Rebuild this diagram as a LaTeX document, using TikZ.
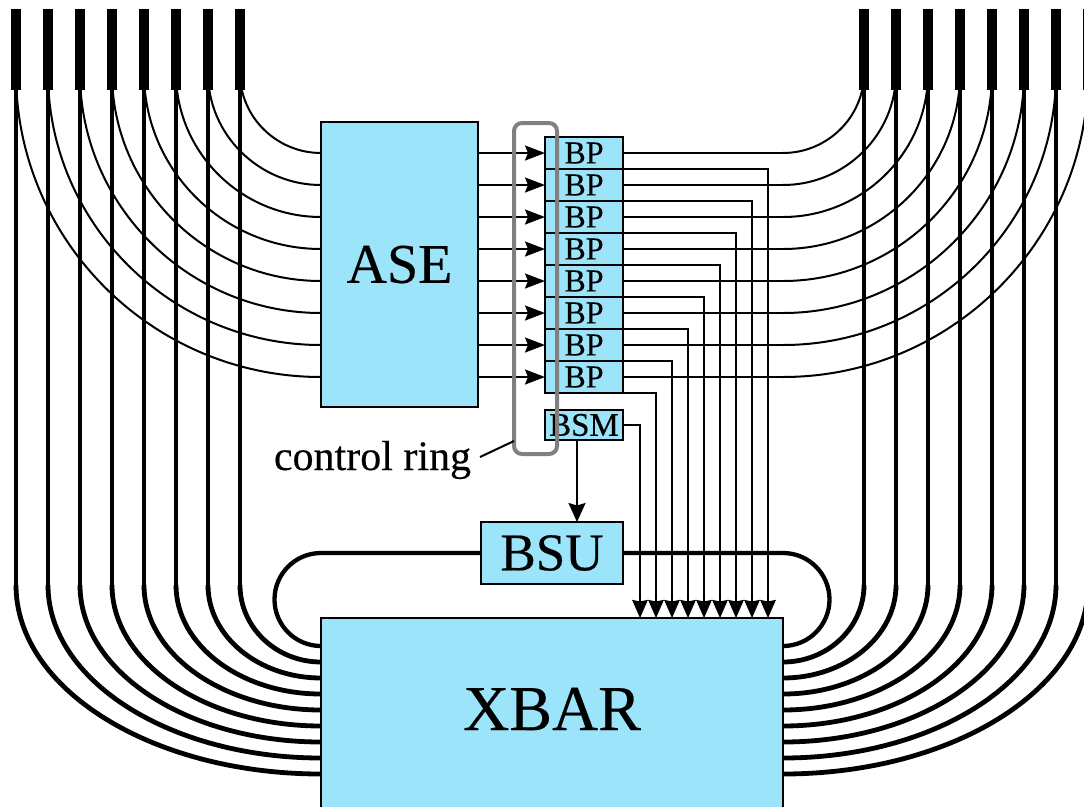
\documentclass[tikz,border=0pt]{standalone}
\usepackage{fontspec}
\setmainfont{Liberation Serif}[FakeBold=0.35]
\usetikzlibrary{arrows.meta,calc}
\definecolor{boxfill}{RGB}{155,228,250}
\definecolor{ringgray}{RGB}{128,128,128}
\begin{document}
\begin{tikzpicture}[x=1pt,y=1pt,
  box/.style={draw, fill=boxfill, line width=2.2pt, inner sep=0pt, outer sep=0pt},
  thinln/.style={line width=2pt},
  topseg/.style={line width=10.5pt},
  vline/.style={line width=3.8pt},
  bcurve/.style={line width=4.8pt},
  loopln/.style={line width=4.3pt},
  rarr/.style={-{Stealth[length=20pt,width=15pt,inset=3pt]}},
  darr/.style={-{Stealth[length=18pt,width=15.5pt,inset=1.5pt]}},
  barr/.style={-{Stealth[length=19pt,width=17pt,inset=2.5pt]}}
]
\useasboundingbox (0,0) rectangle (1084,-806);
\begin{scope}
\clip (0,0) rectangle (1084,-806);
% boxes
\node[box, minimum width=157pt, minimum height=285pt, font=\fontsize{56}{60}\selectfont] (ASE) at (399.5,-264.5) {ASE};
\foreach \k in {1,...,8}
  \node[box, minimum width=78pt, minimum height=32pt, font=\fontsize{32}{32}\selectfont] (BP\k) at (584,{-153-32*(\k-1)}) {BP};
\node[box, minimum width=78pt, minimum height=30pt, font=\fontsize{33}{32}\selectfont] (BSM) at (584,-425) {BSM};
\node[box, minimum width=142pt, minimum height=62pt, font=\fontsize{53}{56}\selectfont] (BSU) at (552,-553) {BSU};
\node[box, minimum width=462pt, minimum height=220pt, anchor=north] (XBAR) at (552,-618) {};
\node[font=\fontsize{64}{68}\selectfont] (XBARlbl) at (552,-709) {XBAR};
% left and right fibre bundles
\foreach \i in {0,...,7} {
  \pgfmathsetmacro\xx{16+32*\i}
  \pgfmathsetmacro\xr{1104-16-32*\i}
  \pgfmathsetmacro\yin{153+32*(7-\i)}
  \pgfmathsetmacro\yout{662+16*(7-\i)}
  \pgfmathsetmacro\rr{0.5523*(\yin-73)}
  \pgfmathsetmacro\dd{0.5523*(\yout-585)}
  \pgfmathsetmacro\ee{0.5523*(321-\xx)}
  \coordinate (LT\i) at (\xx,-9);
  \coordinate (LA\i) at (\xx,-73);
  \coordinate (LM\i) at (\xx,-90);
  \coordinate (LB\i) at (\xx,-585);
  \coordinate (RT\i) at (\xr,-9);
  \coordinate (RA\i) at (\xr,-73);
  \coordinate (RM\i) at (\xr,-90);
  \coordinate (RB\i) at (\xr,-585);
  \coordinate (RC\i) at (783,-\yin);
  % top thin arcs
  \draw[thinln] (LA\i) .. controls +(0,-\rr) and +(-\rr,0) .. (ASE.west |- 0,-\yin);
  \draw[thinln] (RA\i) .. controls +(0,-\rr) and +(\rr,0) .. (RC\i);
  % bottom curves into XBAR
  \draw[bcurve] (LB\i) .. controls +(0,-\dd) and +(-\ee,0) .. (XBAR.west |- 0,-\yout);
  \draw[bcurve] (RB\i) .. controls +(0,-\dd) and +(\ee,0) .. (XBAR.east |- 0,-\yout);
  % verticals
  \draw[vline] (LM\i) -- (LB\i);
  \draw[vline] (RM\i) -- (RB\i);
  \draw[topseg] (LT\i) -- (LM\i);
  \draw[topseg] (RT\i) -- (RM\i);
}
% ASE -> BP, BP -> right bundle, BP -> XBAR
\foreach \k in {1,...,8} {
  \pgfmathsetmacro\xa{768-16*(\k-1)}
  \draw[thinln, rarr] (ASE.east |- BP\k.west) -- (BP\k.west);
  \draw[thinln] (BP\k.east) -- (XBAR.east |- BP\k.east);
  \draw[thinln, darr] (BP\k.south east) -| (XBAR.north -| \xa,0);
}
\draw[thinln, darr] (BSM.east) -| (XBAR.north -| 640,0);
% BSM -> BSU
\coordinate (bsmo) at ([xshift=-7pt]BSM.south);
\draw[thinln, barr] (bsmo) -- (bsmo |- BSU.north);
% BSU loops
\draw[loopln] (BSU.west) -- (XBAR.west |- BSU.west) arc[start angle=90, end angle=270, radius=46.5pt];
\draw[loopln] (BSU.east) -- (XBAR.east |- BSU.east) arc[start angle=90, end angle=-90, radius=46.5pt];
% control ring
\node[draw=ringgray, line width=4pt, rounded corners=8pt, minimum width=43pt, minimum height=331pt, inner sep=0pt, outer sep=0pt] (ring) at (535.5,-288.5) {};
\node[anchor=base, font=\fontsize{42}{44}\selectfont, inner sep=0pt] (crl) at (372.5,-470) {control ring};
\coordinate (crA) at (480,-457);
\draw[thinln] (crA) -- (ring.west |- 0,-441);
\end{scope}
\end{tikzpicture}
\end{document}
